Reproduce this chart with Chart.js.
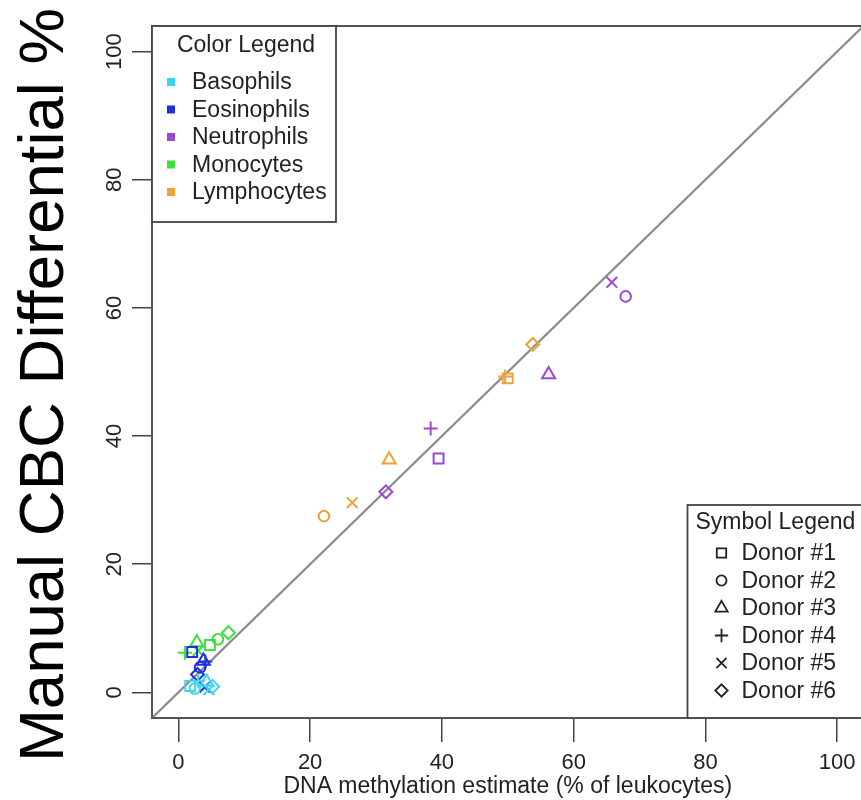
<!DOCTYPE html>
<html>
<head>
<meta charset="utf-8">
<script src="https://cdn.jsdelivr.net/npm/chart.js@4.4.1/dist/chart.umd.min.js"></script>
<style>
  html, body { margin: 0; padding: 0; background: #fff; overflow: hidden; }
  #wrap { position: relative; width: 873px; height: 800px; }
</style>
</head>
<body>
<div id="wrap"><canvas id="cbcChart"></canvas></div>
<script>
// cell types (colour legend) and donors (symbol legend)
const cellTypes = ['Basophils', 'Eosinophils', 'Neutrophils', 'Monocytes', 'Lymphocytes'];
const donors = ['Donor #1', 'Donor #2', 'Donor #3', 'Donor #4', 'Donor #5', 'Donor #6'];

// DNA methylation estimate (x) and manual CBC differential (y), one value per donor
const basoX = [1.8, 2.5, 4.3, 3.0, 4.6, 5.2];
const basoY = [1.0, 0.6, 1.6, 1.8, 0.4, 0.9];
const eosX  = [2.1, 3.3, 3.8, 4.1, 4.0, 2.9];
const eosY  = [6.3, 3.9, 4.9, 4.8, 0.8, 2.8];
const neuX  = [39.5, 67.9, 56.2, 38.3, 65.8, 31.5];
const neuY  = [36.5, 61.8, 49.6, 41.2, 64.0, 31.3];
const monoX = [4.8, 6.0, 2.8, 1.0, 3.0, 7.6];
const monoY = [7.4, 8.3, 7.8, 6.2, 6.5, 9.3];
const lymX  = [50.0, 22.1, 32.0, 49.6, 26.4, 53.8];
const lymY  = [49.0, 27.5, 36.3, 49.3, 29.6, 54.3];

const axisTicks = [0, 20, 40, 60, 80, 100];
const identityLine = [-4, 104];

const allX = [basoX, eosX, neuX, monoX, lymX];
const allY = [basoY, eosY, neuY, monoY, lymY];

const cellColors = ['#3cd6ec', '#1e30e0', '#9c48d4', '#3fe03f', '#eea238'];
const donorStyles = ['rect', 'circle', 'triangle', 'cross', 'crossRot', 'rectRot'];
const styleRadius = { rect: 7, circle: 5.3, triangle: 7.5, cross: 7, crossRot: 7.5, rectRot: 6.5 };
const FONT = '"Liberation Sans", Arial, Helvetica, sans-serif';

const datasets = cellTypes.map((name, i) => ({
  label: name,
  data: allX[i].map((x, j) => ({ x: x, y: allY[i][j] })),
  borderColor: cellColors[i],
  backgroundColor: 'rgba(0,0,0,0)',
  pointStyle: donorStyles,
  pointRadius: donorStyles.map(s => styleRadius[s]),
  pointBorderWidth: 2,
  showLine: false
}));

datasets.push({
  label: 'identity',
  data: identityLine.map(v => ({ x: v, y: v })),
  showLine: true,
  borderColor: '#8c8c8c',
  borderWidth: 2.3,
  pointRadius: 0,
  order: 1
});

// box, legends and the big y title
const decorations = {
  id: 'decorations',
  afterDatasetsDraw(chart) {
    const { ctx, chartArea: a } = chart;
    const drawPoint = Chart.helpers && Chart.helpers.drawPoint;
    ctx.save();

    ctx.strokeStyle = '#555';
    ctx.lineWidth = 2;
    ctx.strokeRect(a.left, a.top, a.right - a.left, a.bottom - a.top);

    // Color Legend, top left
    let lx = a.left, ly = a.top, lw = 184, lh = 196;
    ctx.fillStyle = '#fff';
    ctx.fillRect(lx, ly, lw, lh);
    ctx.strokeStyle = '#444';
    ctx.lineWidth = 1.8;
    ctx.strokeRect(lx, ly, lw, lh);
    ctx.fillStyle = '#222';
    ctx.font = '23px ' + FONT;
    ctx.textBaseline = 'middle';
    ctx.textAlign = 'center';
    ctx.fillText('Color Legend', lx + 94, ly + 20);
    ctx.textAlign = 'left';
    cellTypes.forEach((name, i) => {
      const y = ly + 56 + i * 27.5;
      ctx.fillStyle = cellColors[i];
      ctx.fillRect(lx + 15, y - 4, 8, 8);
      ctx.fillStyle = '#222';
      ctx.fillText(name, lx + 40, y + 1);
    });

    // Symbol Legend, bottom right
    lw = 176; lh = 213;
    lx = a.right - lw; ly = a.bottom - lh;
    ctx.fillStyle = '#fff';
    ctx.fillRect(lx, ly, lw, lh);
    ctx.strokeStyle = '#444';
    ctx.strokeRect(lx, ly, lw, lh);
    ctx.fillStyle = '#222';
    ctx.fillText('Symbol Legend', lx + 8, ly + 18);
    donors.forEach((name, i) => {
      const y = ly + 48 + i * 27.5;
      ctx.strokeStyle = '#222';
      ctx.fillStyle = 'rgba(0,0,0,0)';
      if (drawPoint) {
        drawPoint(ctx, { pointStyle: donorStyles[i], radius: styleRadius[donorStyles[i]] * 0.95, borderWidth: 1.9, rotation: 0 }, lx + 34, y);
      }
      ctx.fillStyle = '#222';
      ctx.fillText(name, lx + 54, y + 1);
    });
    ctx.restore();
  },
  afterDraw(chart) {
    const { ctx } = chart;
    ctx.save();
    ctx.translate(63, 385);
    ctx.rotate(-Math.PI / 2);
    ctx.font = '63.5px ' + FONT;
    ctx.fillStyle = '#000';
    ctx.textAlign = 'center';
    ctx.textBaseline = 'alphabetic';
    ctx.fillText('Manual CBC Differential %', 0, 0);
    ctx.restore();
  }
};

new Chart(document.getElementById('cbcChart').getContext('2d'), {
  type: 'scatter',
  data: { datasets: datasets },
  plugins: [decorations],
  options: {
    responsive: true,
    maintainAspectRatio: false,
    animation: false,
    layout: { padding: { top: 26, right: 6, left: 0, bottom: 0 } },
    plugins: { legend: { display: false }, tooltip: { enabled: false } },
    scales: {
      x: {
        type: 'linear',
        min: -4,
        max: 104,
        afterBuildTicks: s => { s.ticks = axisTicks.map(v => ({ value: v })); },
        afterFit: s => { s.height = 82; },
        border: { display: false },
        grid: { drawOnChartArea: false, drawTicks: true, tickLength: 24, color: '#444', lineWidth: 1.5 },
        ticks: { color: '#222', font: { family: FONT, size: 22 }, padding: 8, maxRotation: 0, autoSkip: false },
        title: {
          display: true,
          text: 'DNA methylation estimate (% of leukocytes)',
          color: '#222',
          font: { family: FONT, size: 23 },
          padding: { top: 0, bottom: 0 }
        }
      },
      y: {
        type: 'linear',
        min: -4,
        max: 104,
        afterBuildTicks: s => { s.ticks = axisTicks.map(v => ({ value: v })); },
        afterFit: s => { s.width = 152; },
        border: { display: false },
        grid: { drawOnChartArea: false, drawTicks: true, tickLength: 20, color: '#444', lineWidth: 1.5 },
        ticks: { color: '#222', font: { family: FONT, size: 22 }, padding: -1, minRotation: 90, maxRotation: 90, crossAlign: 'center', autoSkip: false }
      }
    }
  }
});
</script>
</body>
</html>
